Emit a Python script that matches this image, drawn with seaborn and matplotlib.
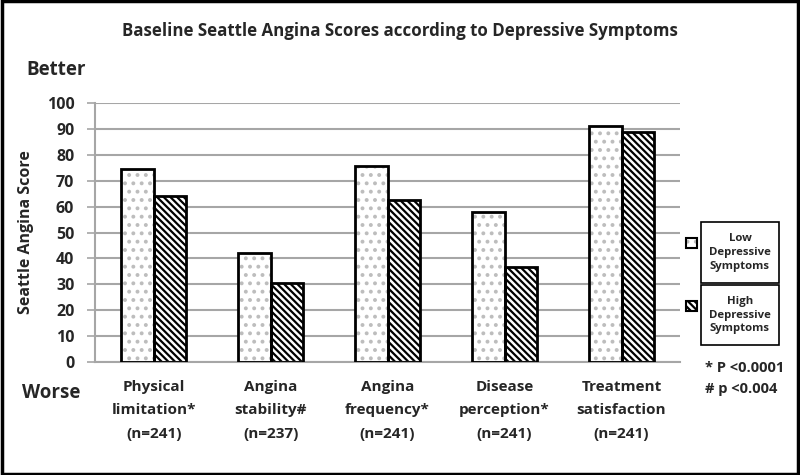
import matplotlib
matplotlib.use("Agg")
import matplotlib.pyplot as plt
import seaborn as sns
import pandas as pd
from matplotlib.patches import Rectangle

categories = ["Physical\nlimitation*\n(n=241)", "Angina\nstability#\n(n=237)",
              "Angina\nfrequency*\n(n=241)", "Disease\nperception*\n(n=241)",
              "Treatment\nsatisfaction\n(n=241)"]
low_vals = [74.5, 42, 75.5, 58, 91]
high_vals = [64, 30.5, 62.5, 36.5, 89]
groups = ["Low Depressive Symptoms", "High Depressive Symptoms"]
yticks = [0, 10, 20, 30, 40, 50, 60, 70, 80, 90, 100]

df = pd.DataFrame({
    "cat": categories * 2,
    "val": low_vals + high_vals,
    "grp": [groups[0]] * 5 + [groups[1]] * 5,
})

sns.set_style("white")
plt.rcParams['font.family'] = ['Open Sans', 'DejaVu Sans']
plt.rcParams['font.weight'] = 'bold'
plt.rcParams['hatch.linewidth'] = 1.6

fig = plt.figure(figsize=(8, 4.75), dpi=100)
ax = fig.add_axes([0.119, 0.238, 0.731, 0.545])

sns.barplot(data=df, x="cat", y="val", hue="grp", hue_order=groups,
            palette=["white", "white"], width=0.56, ax=ax, legend=False,
            edgecolor="black", linewidth=2)

hatches = ['..', '\\\\\\\\\\']
hcolors = ['#bdbdbd', 'black']
for i, cont in enumerate(ax.containers):
    for p in cont:
        p.set_hatch(hatches[i])
        p.set_edgecolor(hcolors[i])
        p.set_linewidth(0)
        ax.add_patch(Rectangle(p.get_xy(), p.get_width(), p.get_height(),
                               fill=False, ec='black', lw=2, zorder=5))

ax.set_ylim(0, 100)
ax.set_yticks(yticks)
ax.set_yticklabels([str(t) for t in yticks], fontsize=11.5, fontweight='bold')
ax.yaxis.grid(True, color='#a6a6a6', lw=1.5)
ax.set_axisbelow(True)
for s in ['top', 'right']:
    ax.spines[s].set_visible(False)
ax.spines['left'].set_color('#a6a6a6')
ax.spines['bottom'].set_color('#a6a6a6')
ax.spines['left'].set_linewidth(1.5)
ax.spines['bottom'].set_linewidth(1.5)
ax.tick_params(axis='y', length=6, width=1.2, color='#a6a6a6', pad=9, left=True)
ax.tick_params(axis='x', length=0)
ax.set_xticklabels(categories, fontsize=11, fontweight='bold', linespacing=1.85)
ax.tick_params(axis='x', pad=13)
ax.set_xlabel("")
ax.set_ylabel("Seattle Angina Score", fontsize=11.5, fontweight='bold', labelpad=9)

fig.text(0.5, 0.935, "Baseline Seattle Angina Scores according to Depressive Symptoms",
         ha='center', va='center', fontsize=12.2, fontweight='bold')
fig.text(0.033, 0.852, "Better", ha='left', va='center', fontsize=13.5, fontweight='bold')
fig.text(0.028, 0.173, "Worse", ha='left', va='center', fontsize=13.5, fontweight='bold')

# legend boxes
for j, (y0, lab) in enumerate([(0.405, "Low\nDepressive\nSymptoms"), (0.273, "High\nDepressive\nSymptoms")]):
    fig.patches.append(Rectangle((0.876, y0), 0.098, 0.127, transform=fig.transFigure,
                                 fill=False, ec='black', lw=1.2))
    fig.text(0.925, y0 + 0.0635, lab, ha='center', va='center', fontsize=8.2,
             fontweight='bold', linespacing=1.35)
    fig.patches.append(Rectangle((0.858, y0 + 0.072), 0.013, 0.022, transform=fig.transFigure,
                                 fc='white', ec=hcolors[j], hatch=hatches[j], lw=0))
    fig.patches.append(Rectangle((0.858, y0 + 0.072), 0.013, 0.022, transform=fig.transFigure,
                                 fill=False, ec='black', lw=1.5))

fig.text(0.881, 0.226, "* P <0.0001", ha='left', va='center', fontsize=10.5, fontweight='bold')
fig.text(0.881, 0.181, "# p <0.004", ha='left', va='center', fontsize=10.5, fontweight='bold')

fig.patches.append(Rectangle((0.002, 0.003), 0.996, 0.994, transform=fig.transFigure,
                             fill=False, ec='black', lw=2.5))

fig.savefig("out.png", dpi=100)
